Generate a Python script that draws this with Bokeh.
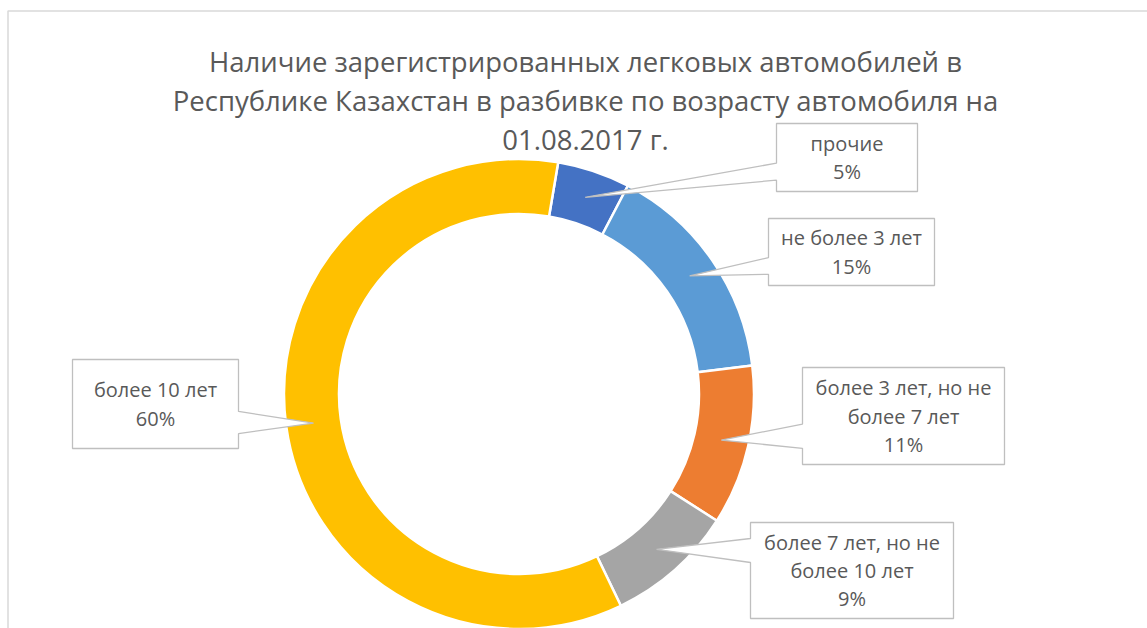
import math
from bokeh.plotting import figure
from bokeh.models import Range1d, ColumnDataSource
from bokeh.embed import file_html
from bokeh.resources import INLINE
from bokeh.core.properties import value

# ---------------- data ----------------
title_lines = [
    "Наличие зарегистрированных легковых автомобилей в",
    "Республике Казахстан в разбивке по возрасту автомобиля на",
    "01.08.2017 г.",
]
categories = [
    "прочие",
    "не более 3 лет",
    "более 3 лет, но не более 7 лет",
    "более 7 лет, но не более 10 лет",
    "более 10 лет",
]
category_lines = [
    ["прочие"],
    ["не более 3 лет"],
    ["более 3 лет, но не", "более 7 лет"],
    ["более 7 лет, но не", "более 10 лет"],
    ["более 10 лет"],
]
values = [5.0, 15.4, 11.0, 8.8, 59.8]
colors = ["#4472C4", "#5B9BD5", "#ED7D31", "#A5A5A5", "#FFC000"]

# ---------------- layout ----------------
W, H = 1147, 628
CX, CY = 518.5, 393.5          # donut centre (px, y down)
R_OUT, R_IN = 235, 180
FIRST_ANGLE = 9.6              # degrees clockwise from 12 o'clock
TEXT_COLOR = "#595959"
FONT = "Open Sans"
# label boxes: left, top, width, height (px, y down)
boxes = [
    (776, 123, 141, 68),
    (768, 218, 166, 67),
    (802, 367, 202, 97),
    (750, 522, 203, 96),
    (72, 359, 166, 89),
]
LABEL_LH = 28.3


def Y(ypx):
    return H - ypx


p = figure(width=W, height=H, x_range=Range1d(0, W), y_range=Range1d(0, H),
           x_axis_type=None, y_axis_type=None, toolbar_location=None,
           output_backend="svg", min_border=0, outline_line_color=None,
           background_fill_color="white", border_fill_color="white")

# chart area border
p.quad(left=[7.5], right=[W + 30], top=[Y(10.5)], bottom=[-30],
       fill_color=None, line_color="#D9D9D9", line_width=1.5)

# donut slices
total = sum(values)
starts, ends, mids = [], [], []
acc = FIRST_ANGLE
for v in values:
    a0 = acc
    a1 = acc + v / total * 360.0
    starts.append(math.radians(90 - a0))
    ends.append(math.radians(90 - a1))
    mids.append((a0 + a1) / 2)
    acc = a1

src = ColumnDataSource(dict(start=starts, end=ends, color=colors, cat=categories))
p.annular_wedge(x=CX, y=Y(CY), inner_radius=R_IN, outer_radius=R_OUT,
                start_angle="start", end_angle="end", direction="clock",
                fill_color="color", line_color="white", line_width=2.5, source=src)

# callout boxes
xs, ys = [], []
tx_all, ty_all, tt_all = [], [], []
r_mid = (R_IN + R_OUT) / 2
for i, (l, t, w, h) in enumerate(boxes):
    ang = math.radians(mids[i])
    tipx = CX + r_mid * math.sin(ang)
    tipy = CY - r_mid * math.cos(ang)
    r, b = l + w, t + h
    bx, by = l + w / 2, t + h / 2
    dx, dy = tipx - bx, tipy - by
    if abs(dx) / w >= abs(dy) / h:
        if dy > 0:
            y1, y2 = t + 7 * h / 12, t + 10 * h / 12
        else:
            y1, y2 = t + 2 * h / 12, t + 5 * h / 12
        if dx < 0:
            pts = [(l, t), (r, t), (r, b), (l, b), (l, y2), (tipx, tipy), (l, y1)]
        else:
            pts = [(l, t), (r, t), (r, y1), (tipx, tipy), (r, y2), (r, b), (l, b)]
    else:
        if dx > 0:
            x1, x2 = l + 7 * w / 12, l + 10 * w / 12
        else:
            x1, x2 = l + 2 * w / 12, l + 5 * w / 12
        if dy < 0:
            pts = [(l, t), (x1, t), (tipx, tipy), (x2, t), (r, t), (r, b), (l, b)]
        else:
            pts = [(l, t), (r, t), (r, b), (x2, b), (tipx, tipy), (x1, b), (l, b)]
    xs.append([q[0] for q in pts])
    ys.append([Y(q[1]) for q in pts])

    lines = category_lines[i] + [f"{round(values[i] / total * 100)}%"]
    n = len(lines)
    for k, s in enumerate(lines):
        tx_all.append(bx)
        ty_all.append(Y(by + (k - (n - 1) / 2) * LABEL_LH))
        tt_all.append(s)

p.patches(xs=xs, ys=ys, fill_color="white", line_color="#BFBFBF", line_width=1.3)
p.text(x=tx_all, y=ty_all, text=tt_all, text_align="center", text_baseline="middle",
       text_font=value(FONT), text_font_size="20px", text_color=TEXT_COLOR)

# title
title_base = [61, 100, 139]
p.text(x=[585] * 3, y=[Y(v) for v in title_base], text=title_lines,
       text_align="center", text_baseline="alphabetic",
       text_font=value(FONT), text_font_size="27.5px", text_color=TEXT_COLOR)

open("out.html", "w").write(file_html(p, INLINE))
